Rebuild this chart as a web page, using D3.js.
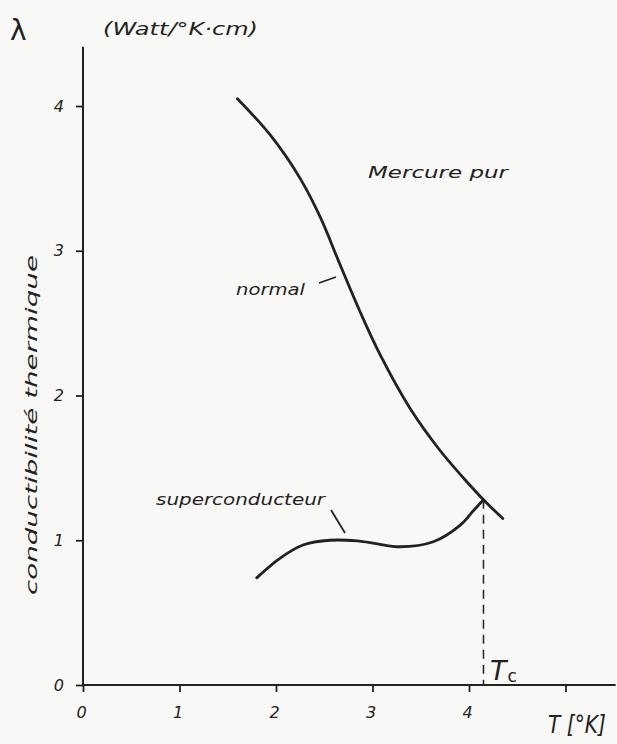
<!DOCTYPE html>
<html>
<head>
<meta charset="utf-8">
<script src="https://cdn.jsdelivr.net/npm/d3@7"></script>
<style>
  html, body { margin: 0; padding: 0; background: #f8f8f6; }
  svg { display: block; }
  text { font-family: "DejaVu Sans", sans-serif; font-style: italic; fill: #222; }
</style>
</head>
<body>
<script>
// ---- data ----
const xTicks = [0, 1, 2, 3, 4, 5];
const yTicks = [0, 1, 2, 3, 4];
const xTickLabels = ["0", "1", "2", "3", "4", ""];
const yTickLabels = ["0", "1", "2", "3", "4"];
const normalT = [1.60, 1.94, 2.25, 2.46, 2.66, 2.87, 3.08, 3.39, 3.70, 4.01, 4.15, 4.35];
const normalL = [4.05, 3.80, 3.50, 3.23, 2.91, 2.58, 2.28, 1.91, 1.62, 1.38, 1.28, 1.15];
const superT = [1.80, 2.04, 2.28, 2.56, 2.84, 3.05, 3.28, 3.63, 3.91, 4.04, 4.15];
const superL = [0.74, 0.875, 0.967, 1.0, 0.995, 0.975, 0.955, 0.99, 1.105, 1.2, 1.28];
const Tc = 4.15;
const TcL = 1.28;

const W = 617, H = 744;
const svg = d3.select("body").append("svg").attr("width", W).attr("height", H);
svg.append("rect").attr("width", W).attr("height", H).attr("fill", "#f8f8f6");

const x = d3.scaleLinear().domain([0, 5]).range([83, 565.5]);
const y = d3.scaleLinear().domain([0, 4]).range([685, 106]);
const ink = "#222";

// axes lines
svg.append("line").attr("x1", x(0)).attr("x2", x(0)).attr("y1", y(0)).attr("y2", y(4.41))
  .attr("stroke", ink).attr("stroke-width", 2);
svg.append("line").attr("x1", x(0)).attr("x2", x(5.52)).attr("y1", y(0)).attr("y2", y(0))
  .attr("stroke", ink).attr("stroke-width", 2);

// x axis ticks
const xAxis = d3.axisBottom(x).tickValues(xTicks).tickSize(7)
  .tickFormat((d, i) => xTickLabels[i]);
const gx = svg.append("g").attr("transform", `translate(0,${y(0)})`).call(xAxis);
gx.select(".domain").remove();
gx.selectAll(".tick line").attr("stroke", ink).attr("stroke-width", 1.8);
gx.selectAll(".tick text").attr("font-size", 16).attr("dy", "1.45em").attr("dx", -2)
  .style("font-family", "DejaVu Sans, sans-serif").style("font-style", "italic").attr("fill", ink);

// y axis ticks
const yAxis = d3.axisLeft(y).tickValues(yTicks).tickSize(7)
  .tickFormat((d, i) => yTickLabels[i]);
const gy = svg.append("g").attr("transform", `translate(${x(0)},0)`).call(yAxis);
gy.select(".domain").remove();
gy.selectAll(".tick line").attr("stroke", ink).attr("stroke-width", 1.8);
gy.selectAll(".tick text").attr("font-size", 16).attr("x", -19)
  .style("font-family", "DejaVu Sans, sans-serif").style("font-style", "italic").attr("fill", ink);

// curves
const line = d3.line().x(d => x(d[0])).y(d => y(d[1])).curve(d3.curveCatmullRom.alpha(0.5));
svg.append("path").attr("d", line(d3.zip(normalT, normalL)))
  .attr("fill", "none").attr("stroke", ink).attr("stroke-width", 2.8).attr("stroke-linecap", "round");
svg.append("path").attr("d", line(d3.zip(superT, superL)))
  .attr("fill", "none").attr("stroke", ink).attr("stroke-width", 2.8).attr("stroke-linecap", "round");

// Tc dashed line
svg.append("line").attr("x1", x(Tc)).attr("x2", x(Tc)).attr("y1", y(TcL)).attr("y2", y(0))
  .attr("stroke", ink).attr("stroke-width", 1.5).attr("stroke-dasharray", "9,6");

// annotations
svg.append("text").attr("x", 10).attr("y", 40).attr("font-size", 28)
  .style("font-style", "normal").text("λ");
svg.append("text").attr("x", 103).attr("y", 35).attr("font-size", 17)
  .attr("textLength", 155).attr("lengthAdjust", "spacingAndGlyphs").text("(Watt/°K·cm)");

svg.append("text").attr("transform", "translate(37,595) rotate(-90)").attr("font-size", 16)
  .attr("textLength", 340).attr("lengthAdjust", "spacingAndGlyphs").text("conductibilité thermique");

svg.append("text").attr("x", 368).attr("y", 178).attr("font-size", 15)
  .attr("textLength", 140).attr("lengthAdjust", "spacingAndGlyphs").text("Mercure pur");

svg.append("text").attr("x", 236).attr("y", 295).attr("font-size", 16)
  .attr("textLength", 69).attr("lengthAdjust", "spacingAndGlyphs").text("normal");
svg.append("line").attr("x1", 319).attr("y1", 283).attr("x2", 336).attr("y2", 277)
  .attr("stroke", ink).attr("stroke-width", 1.8);

svg.append("text").attr("x", 156).attr("y", 505).attr("font-size", 16)
  .attr("textLength", 169).attr("lengthAdjust", "spacingAndGlyphs").text("superconducteur");
svg.append("line").attr("x1", 331).attr("y1", 510).attr("x2", 345).attr("y2", 533)
  .attr("stroke", ink).attr("stroke-width", 1.8);

const tc = svg.append("text").attr("x", 490).attr("y", 680).attr("font-size", 27);
tc.append("tspan").text("T");
tc.append("tspan").attr("font-size", 17).attr("dy", 2).attr("dx", 1).style("font-style", "normal").text("c");

svg.append("text").attr("x", 548).attr("y", 733).attr("font-size", 24)
  .attr("textLength", 58).attr("lengthAdjust", "spacingAndGlyphs").text("T [°K]");
</script>
</body>
</html>
